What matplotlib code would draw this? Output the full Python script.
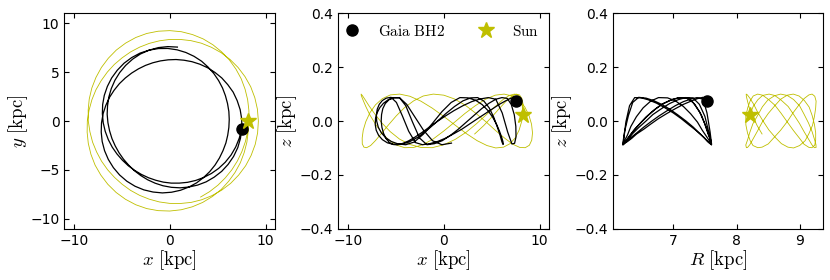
import numpy as np
import matplotlib.pyplot as plt

plt.rcParams['mathtext.fontset'] = 'cm'
plt.rcParams['font.size'] = 10

# orbit samples (kpc), time ordered from the present position
bh2_x = [7.49, 7.26, 6.89, 6.40, 5.79, 5.10, 4.34, 3.53, 2.70, 1.85, 1.00, 0.16,
         -0.66, -1.45, -2.22, -2.96, -3.66, -4.33, -4.94, -5.50, -6.00, -6.41, -6.73, -6.94,
         -7.03, -7.00, -6.83, -6.51, -6.06, -5.47, -4.77, -3.97, -3.09, -2.14, -1.17, -0.19,
         0.77, 1.68, 2.53, 3.32, 4.00, 4.60, 5.10, 5.51, 5.81, 6.03, 6.17, 6.21,
         6.17, 6.05, 5.86, 5.56, 5.19, 4.73, 4.18, 3.53, 2.81, 2.00, 1.12, 0.19,
         -0.77, -1.74, -2.70, -3.62, -4.47, -5.23, -5.88, -6.41, -6.80, -7.05, -7.15, -7.12,
         -6.96, -6.67, -6.29, -5.80, -5.25, -4.63, -3.97, -3.26, -2.53, -1.76, -0.97, -0.16,
         0.66, 1.49, 2.32, 3.15, 3.95, 4.71, 5.43, 6.06, 6.62, 7.04, 7.35, 7.51,
         7.53, 7.38, 7.10, 6.66, 6.09, 5.42, 4.64, 3.80, 2.91, 2.00, 1.08, 0.18,
         -0.70, -1.52, -2.30, -3.02, -3.69, -4.28, -4.82, -5.29, -5.69, -6.03, -6.28, -6.45,
         -6.53, -6.49, -6.36, -6.10, -5.72, -5.22, -4.60, -3.87, -3.05, -2.14, -1.18, -0.20,
         0.80]
bh2_y = [-0.79, -1.74, -2.64, -3.47, -4.21, -4.84, -5.36, -5.77, -6.07, -6.26, -6.34, -6.34,
         -6.24, -6.05, -5.79, -5.45, -5.04, -4.56, -4.00, -3.37, -2.67, -1.90, -1.06, -0.18,
         0.74, 1.68, 2.62, 3.53, 4.40, 5.19, 5.90, 6.48, 6.94, 7.24, 7.40, 7.41,
         7.27, 7.00, 6.61, 6.11, 5.51, 4.85, 4.13, 3.37, 2.59, 1.79, 0.97, 0.16,
         -0.65, -1.45, -2.24, -3.02, -3.77, -4.49, -5.16, -5.77, -6.31, -6.74, -7.07, -7.27,
         -7.34, -7.25, -7.03, -6.66, -6.15, -5.51, -4.76, -3.92, -3.03, -2.09, -1.13, -0.19,
         0.73, 1.60, 2.41, 3.15, 3.82, 4.40, 4.90, 5.33, 5.68, 5.95, 6.14, 6.25,
         6.28, 6.21, 6.06, 5.80, 5.44, 4.97, 4.40, 3.71, 2.95, 2.08, 1.16, 0.20,
         -0.79, -1.77, -2.72, -3.62, -4.43, -5.14, -5.73, -6.21, -6.54, -6.74, -6.82, -6.77,
         -6.61, -6.35, -6.00, -5.57, -5.07, -4.51, -3.90, -3.24, -2.54, -1.79, -0.99, -0.17,
         0.69, 1.56, 2.44, 3.31, 4.16, 4.95, 5.68, 6.32, 6.85, 7.24, 7.50, 7.60,
         7.55]
bh2_z = [0.074, 0.088, 0.083, 0.074, 0.062, 0.046, 0.028, 0.009, -0.011, -0.031, -0.048, -0.064,
         -0.076, -0.084, -0.088, -0.080, -0.038, 0.020, 0.069, 0.088, 0.085, 0.076, 0.062, 0.044,
         0.023, 0.000, -0.023, -0.044, -0.062, -0.076, -0.085, -0.088, -0.078, -0.049, -0.008, 0.035,
         0.069, 0.087, 0.086, 0.077, 0.061, 0.039, 0.014, -0.013, -0.038, -0.060, -0.077, -0.086,
         -0.087, -0.076, -0.052, -0.020, 0.016, 0.049, 0.074, 0.087, 0.086, 0.075, 0.054, 0.027,
         -0.004, -0.034, -0.060, -0.078, -0.087, -0.087, -0.081, -0.069, -0.053, -0.034, -0.013, 0.009,
         0.030, 0.050, 0.066, 0.079, 0.086, 0.087, 0.057, -0.004, -0.063, -0.088, -0.084, -0.073,
         -0.054, -0.031, -0.005, 0.021, 0.046, 0.066, 0.081, 0.087, 0.084, 0.061, 0.023, -0.020,
         -0.059, -0.083, -0.085, -0.041, 0.030, 0.081, 0.087, 0.082, 0.072, 0.057, 0.039, 0.019,
         -0.002, -0.023, -0.043, -0.060, -0.074, -0.083, -0.088, -0.087, -0.079, -0.065, -0.046, -0.024,
         0.000, 0.024, 0.046, 0.065, 0.079, 0.087, 0.086, 0.062, 0.017, -0.033, -0.073, -0.088,
         -0.082]

sun_x = [8.21, 8.19, 8.05, 7.77, 7.37, 6.82, 6.15, 5.37, 4.45, 3.44, 2.35, 1.20,
         0.00, -1.21, -2.40, -3.54, -4.62, -5.60, -6.46, -7.19, -7.79, -8.22, -8.50, -8.62,
         -8.60, -8.42, -8.12, -7.70, -7.15, -6.51, -5.78, -4.96, -4.08, -3.13, -2.13, -1.08,
         0.00, 1.10, 2.20, 3.29, 4.35, 5.36, 6.29, 7.13, 7.85, 8.45, 8.88, 9.15,
         9.25, 9.17, 8.92, 8.49, 7.92, 7.19, 6.36, 5.42, 4.40, 3.33, 2.23, 1.11,
         0.00, -1.09, -2.14, -3.14, -4.09, -4.96, -5.76, -6.48, -7.11, -7.63, -8.05, -8.33,
         -8.50, -8.51, -8.40, -8.13, -7.70, -7.13, -6.41, -5.57, -4.60, -3.54, -2.40, -1.21,
         0.00, 1.21, 2.37, 3.48, 4.50, 5.42, 6.23, 6.91, 7.46, 7.86, 8.13, 8.26,
         8.27, 8.14, 7.89, 7.53, 7.06, 6.48, 5.80, 5.03, 4.16, 3.22]
sun_y = [0.00, -1.08, -2.16, -3.22, -4.26, -5.24, -6.15, -6.99, -7.71, -8.31, -8.76, -9.06,
         -9.19, -9.15, -8.94, -8.55, -7.99, -7.29, -6.46, -5.52, -4.50, -3.41, -2.28, -1.14,
         0.00, 1.11, 2.18, 3.19, 4.13, 5.00, 5.78, 6.46, 7.06, 7.55, 7.93, 8.19,
         8.33, 8.33, 8.21, 7.95, 7.53, 6.98, 6.29, 5.47, 4.54, 3.50, 2.38, 1.21,
         0.00, -1.21, -2.39, -3.52, -4.57, -5.52, -6.36, -7.06, -7.62, -8.04, -8.31, -8.42,
         -8.41, -8.26, -7.98, -7.59, -7.08, -6.46, -5.76, -4.98, -4.11, -3.16, -2.16, -1.10,
         0.00, 1.13, 2.25, 3.37, 4.45, 5.47, 6.41, 7.25, 7.96, 8.53, 8.94, 9.17,
         9.23, 9.12, 8.83, 8.39, 7.79, 7.06, 6.23, 5.30, 4.31, 3.26, 2.18, 1.09,
         0.00, -1.08, -2.12, -3.12, -4.08, -4.98, -5.80, -6.55, -7.21, -7.76]
sun_z = [0.024, 0.054, 0.079, 0.095, 0.100, 0.095, 0.079, 0.054, 0.024, -0.009, -0.041, -0.068,
         -0.088, -0.099, -0.098, -0.087, -0.067, -0.039, -0.007, 0.026, 0.056, 0.080, 0.095, 0.100,
         0.094, 0.078, 0.053, 0.022, -0.010, -0.042, -0.069, -0.089, -0.099, -0.098, -0.087, -0.066,
         -0.037, -0.005, 0.028, 0.057, 0.081, 0.096, 0.100, 0.093, 0.077, 0.052, 0.021, -0.012,
         -0.044, -0.071, -0.090, -0.099, -0.098, -0.086, -0.064, -0.036, -0.003, 0.029, 0.059, 0.082,
         0.096, 0.100, 0.093, 0.075, 0.050, 0.019, -0.014, -0.045, -0.072, -0.091, -0.099, -0.097,
         -0.085, -0.063, -0.034, -0.002, 0.031, 0.060, 0.083, 0.097, 0.100, 0.092, 0.074, 0.048,
         0.017, -0.016, -0.047, -0.073, -0.091, -0.100, -0.097, -0.084, -0.062, -0.033, 0.000, 0.033,
         0.062, 0.084, 0.097, 0.100, 0.091, 0.073, 0.047, 0.016, -0.017, -0.048]

bh2_x, bh2_y, bh2_z = np.array(bh2_x), np.array(bh2_y), np.array(bh2_z)
sun_x, sun_y, sun_z = np.array(sun_x), np.array(sun_y), np.array(sun_z)
bh2_R = np.hypot(bh2_x, bh2_y)
sun_R = np.hypot(sun_x, sun_y)

fig = plt.figure(figsize=(8.3, 2.8), dpi=100)
ax1 = fig.add_axes([0.0775, 0.183, 0.254, 0.7695])
ax2 = fig.add_axes([0.4076, 0.183, 0.2542, 0.7695])
ax3 = fig.add_axes([0.7382, 0.183, 0.2537, 0.7695])

yel = 'y'
panels = [(ax1, bh2_x, bh2_y, sun_x, sun_y),
          (ax2, bh2_x, bh2_z, sun_x, sun_z),
          (ax3, bh2_R, bh2_z, sun_R, sun_z)]
for ax, bx, by, sx, sy in panels:
    ax.plot(sx, sy, color=yel, lw=0.6)
    ax.plot(bx, by, color='k', lw=0.9)
    ax.plot(bx[0], by[0], 'o', color='k', ms=8, label=r'$\mathrm{Gaia\ BH2}$')
    ax.plot(sx[0], sy[0], '*', color=yel, ms=12, label=r'$\mathrm{Sun}$')
    ax.tick_params(direction='in', top=True, right=True, labelsize=10)

lab = dict(fontsize=13.5, labelpad=0.5)

ax1.set_xlim(-11, 11)
ax1.set_ylim(-11, 11)
ax1.set_xticks([-10, 0, 10])
ax1.set_yticks([-10, -5, 0, 5, 10])
ax1.set_xlabel(r'$x\ [\mathrm{kpc}]$', **lab)
ax1.set_ylabel(r'$y\ [\mathrm{kpc}]$', **lab)

ax2.set_xlim(-11, 11)
ax2.set_ylim(-0.4, 0.4)
ax2.set_xticks([-10, 0, 10])
ax2.set_yticks([-0.4, -0.2, 0.0, 0.2, 0.4])
ax2.set_xlabel(r'$x\ [\mathrm{kpc}]$', **lab)
ax2.set_ylabel(r'$z\ [\mathrm{kpc}]$', **lab)
ax2.legend(loc='upper left', bbox_to_anchor=(0.0, 0.98), ncol=2, frameon=False,
           fontsize=11, handlelength=1.0, handletextpad=1.2, columnspacing=2.2,
           borderaxespad=0.0)

ax3.set_xlim(6.04, 9.37)
ax3.set_ylim(-0.4, 0.4)
ax3.set_xticks([7, 8, 9])
ax3.set_yticks([-0.4, -0.2, 0.0, 0.2, 0.4])
ax3.set_xlabel(r'$R\ [\mathrm{kpc}]$', **lab)
ax3.set_ylabel(r'$z\ [\mathrm{kpc}]$', **lab)

fig.savefig('out.png', dpi=100)
